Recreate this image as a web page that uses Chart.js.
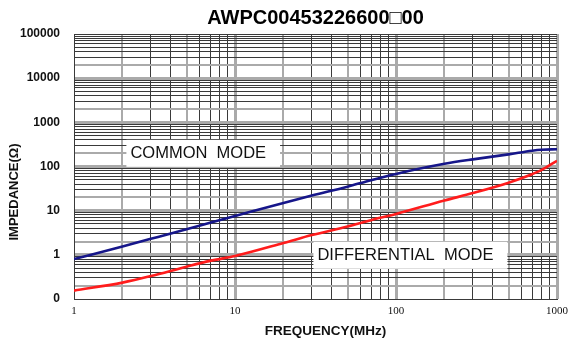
<!DOCTYPE html>
<html>
<head>
<meta charset="utf-8">
<script src="https://cdn.jsdelivr.net/npm/chart.js@4"></script>
<style>
  body { margin: 0; background: #fff; }
  #wrap { width: 574px; height: 344px; }
</style>
</head>
<body>
<div id="wrap"><canvas id="imp-chart"></canvas></div>
<script>
const freqs = [1, 2, 3, 5, 7, 10, 20, 30, 50, 70, 100, 200, 300, 500, 700, 800, 1000];
const commonMode = [0.8, 1.55, 2.3, 3.8, 5.35, 7.6, 15, 22, 35, 49, 68, 115, 145, 188, 228, 240, 245];
const diffMode = [0.155, 0.235, 0.33, 0.54, 0.73, 0.94, 1.85, 2.8, 4.4, 6.1, 8.4, 17, 25, 43, 67, 83, 135];

const yLabels = { 0.1: "0", 1: "1", 10: "10", 100: "100", 1000: "1000", 10000: "10000", 100000: "100000" };
const xLabels = { 1: "1", 10: "10", 100: "100", 1000: "1000" };

const noteTexts = ["COMMON  MODE", "DIFFERENTIAL  MODE"];
const noteFreq = [2.24, 32.5];
const noteImp = [204, 1.0];

function logTicks(min, max) {
    const out = [];
    for (let e = Math.log10(min); e < Math.log10(max); e++) {
        for (let s = 1; s <= 9; s++) out.push({ value: +(s * Math.pow(10, e)).toPrecision(3) });
    }
    out.push({ value: max });
    return out;
}

function sig(v) {
    return Math.round(v / Math.pow(10, Math.floor(Math.log10(v) + 1e-9)));
}

function gridStyle(grayAt, edges) {
    return {
        color: ctx => {
            const v = ctx.tick.value;
            if (edges.includes(v)) return "#3a3a3a";
            const s = sig(v);
            return s === 1 || grayAt.includes(s) ? "#aaaaaa" : "#3a3a3a";
        },
        lineWidth: ctx => {
            const v = ctx.tick.value;
            if (edges.includes(v)) return 1;
            const s = sig(v);
            if (s === 1) return 3;
            return grayAt.includes(s) ? 2 : 1;
        },
        drawTicks: false
    };
}

const notesPlugin = {
    id: "notes",
    afterDraw(chart) {
        const { ctx, scales, chartArea } = chart;
        ctx.save();
        ctx.font = "16.5px 'Liberation Sans', Arial, sans-serif";
        ctx.textBaseline = "middle";
        noteTexts.forEach((t, i) => {
            const x = scales.x.getPixelForValue(noteFreq[i]);
            const y = scales.y.getPixelForValue(noteImp[i]);
            const w = ctx.measureText(t).width;
            ctx.fillStyle = "#fff";
            ctx.fillRect(x - 4, y - 13, w + 18, 27);
            ctx.fillStyle = "#111";
            ctx.fillText(t, x, y + 1);
        });

        // axis titles
        ctx.fillStyle = "#111";
        ctx.font = "bold 13.5px 'Liberation Sans', Arial, sans-serif";
        ctx.textAlign = "center";
        ctx.fillText("FREQUENCY(MHz)", (chartArea.left + chartArea.right) / 2 + 10, 331);
        ctx.translate(14, 192);
        ctx.rotate(-Math.PI / 2);
        ctx.font = "bold 13px 'Liberation Sans', Arial, sans-serif";
        ctx.fillText("IMPEDANCE(\u03A9)", 0, 0);
        ctx.restore();
    }
};

new Chart(document.getElementById("imp-chart"), {
    type: "line",
    data: {
        labels: freqs,
        datasets: [
            {
                label: "Common mode",
                data: freqs.map((f, i) => ({ x: f, y: commonMode[i] })),
                borderColor: "#16168a",
                borderWidth: 2.6,
                pointRadius: 0,
                cubicInterpolationMode: "monotone",
                fill: false
            },
            {
                label: "Differential mode",
                data: freqs.map((f, i) => ({ x: f, y: diffMode[i] })),
                borderColor: "#ff1c1c",
                borderWidth: 2.6,
                pointRadius: 0,
                cubicInterpolationMode: "monotone",
                fill: false
            }
        ]
    },
    options: {
        responsive: true,
        maintainAspectRatio: false,
        animation: false,
        layout: { padding: { left: 0, right: 12, top: 0, bottom: 0 } },
        plugins: {
            legend: { display: false },
            tooltip: { enabled: false },
            title: {
                display: true,
                text: "AWPC00453226600\u25A100",
                fullSize: false,
                color: "#000",
                font: { family: "'Liberation Sans', Arial, sans-serif", size: 20, weight: "bold" },
                padding: { top: 6, bottom: 4 }
            }
        },
        scales: {
            x: {
                type: "logarithmic",
                min: 1,
                max: 1000,
                afterBuildTicks: s => { s.ticks = logTicks(1, 1000); },
                afterFit: s => { s.height = 45; },
                grid: gridStyle([2, 5], [1]),
                border: { display: true, color: "#3a3a3a", width: 1 },
                ticks: {
                    autoSkip: false,
                    maxRotation: 0,
                    padding: 6,
                    color: "#111",
                    font: { family: "'Liberation Serif', 'Times New Roman', serif", size: 11 },
                    callback: v => xLabels[v] ?? ""
                }
            },
            y: {
                type: "logarithmic",
                min: 0.1,
                max: 100000,
                afterBuildTicks: s => { s.ticks = logTicks(0.1, 100000); },
                afterFit: s => { s.width = 74; },
                grid: gridStyle([2], [0.1, 100000]),
                border: { display: true, color: "#3a3a3a", width: 1 },
                ticks: {
                    autoSkip: false,
                    padding: 14,
                    color: "#111",
                    font: { family: "'Liberation Sans', Arial, sans-serif", size: 12, weight: "bold" },
                    callback: v => yLabels[v] ?? ""
                }
            }
        }
    },
    plugins: [notesPlugin]
});
</script>
</body>
</html>
